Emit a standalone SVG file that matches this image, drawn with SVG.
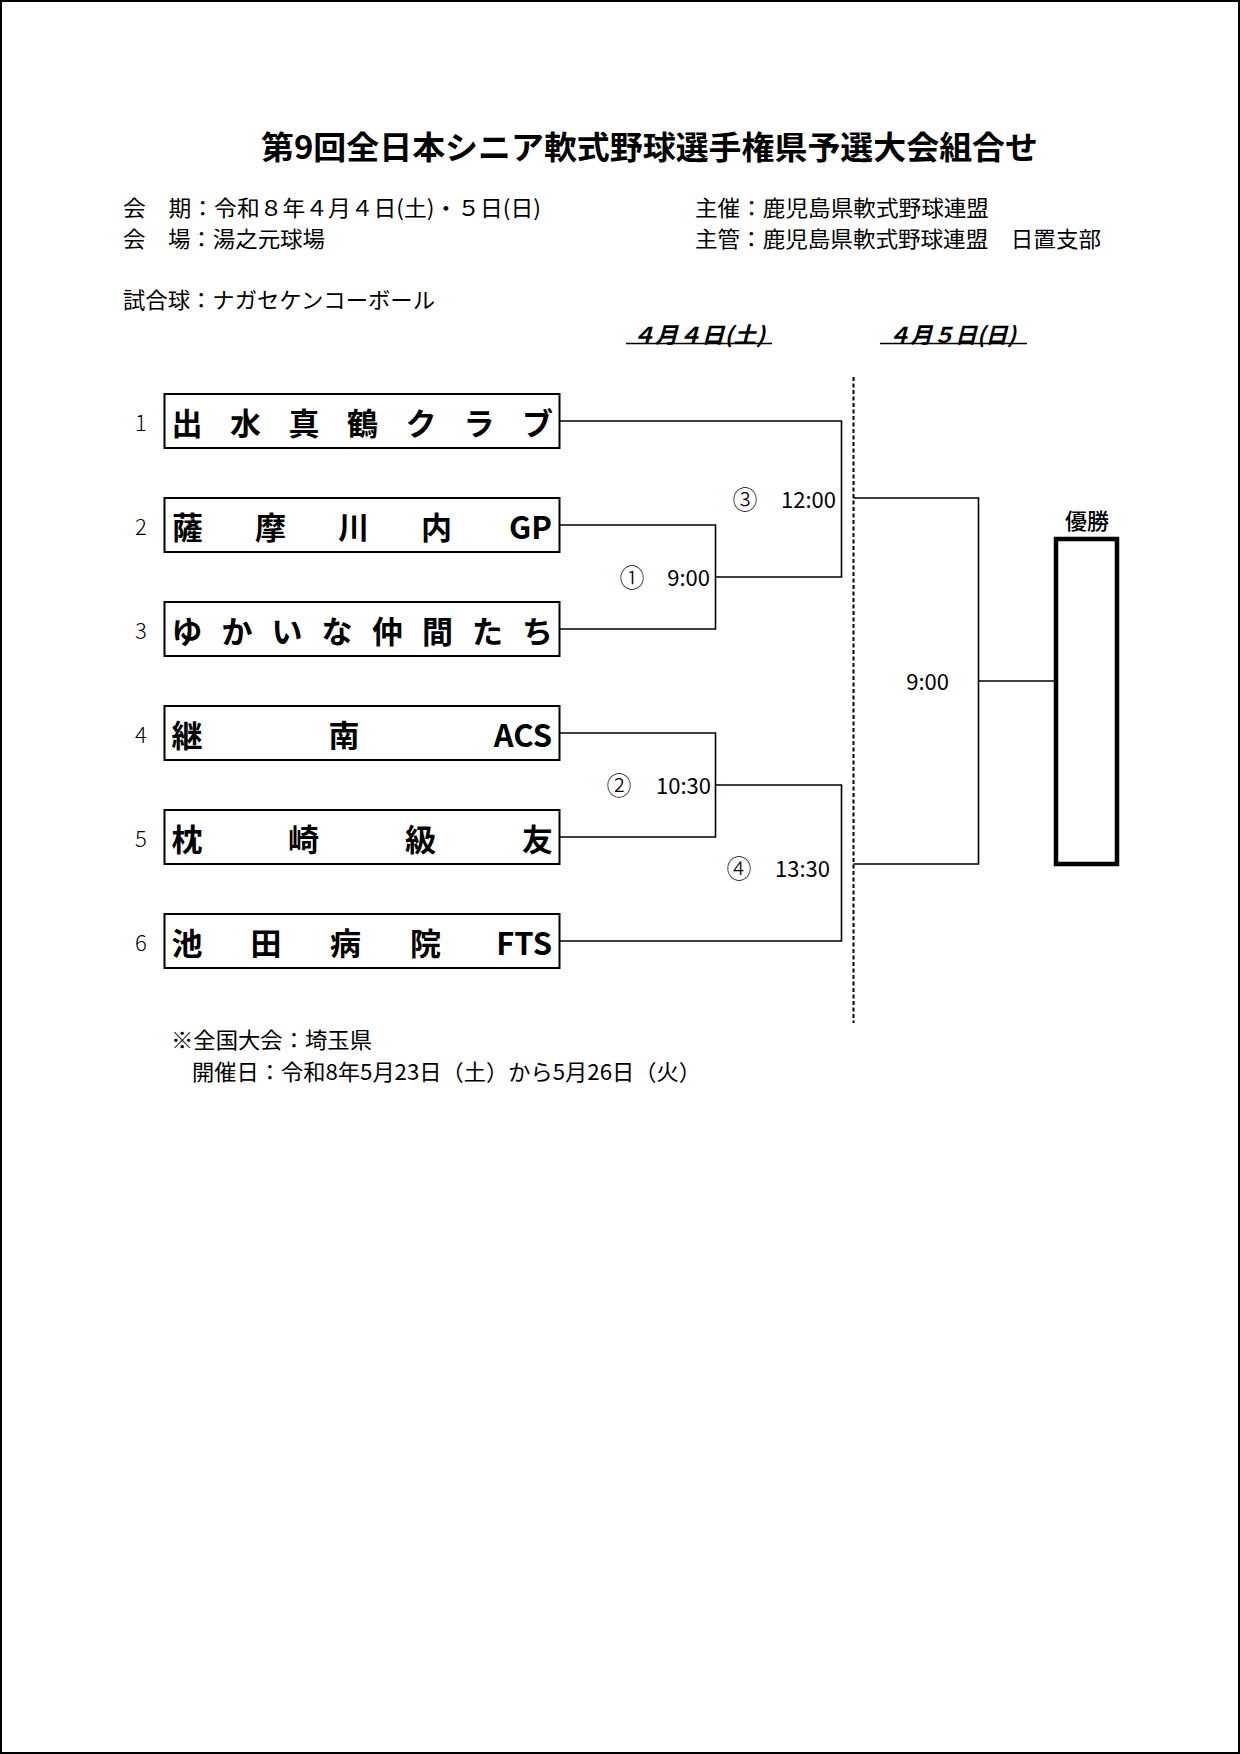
<svg xmlns="http://www.w3.org/2000/svg" width="1240" height="1754" viewBox="0 0 1240 1754">
<style>
text { font-family: "Noto Sans CJK JP", "Liberation Sans", sans-serif; fill: #000; dominant-baseline: central; }
.title { font-size: 32px; font-weight: 700; }
.info { font-size: 22px; }
.date { font-size: 22px; font-weight: 700; font-style: italic; }
.num { font-size: 22px; font-weight: 300; }
.team { font-size: 31px; font-weight: 700; text-anchor: middle; }
.teamend { font-size: 31px; font-weight: 700; text-anchor: end; }
.circ { font-size: 25px; text-anchor: middle; font-weight: 300; }
.time { font-size: 22px; text-anchor: end; }
.win { font-size: 22px; font-weight: 500; text-anchor: middle; }
.box { fill: #fff; stroke: #000; stroke-width: 2; }
.ln { fill: none; stroke: #000; stroke-width: 1.6; }
.dash { fill: none; stroke: #000; stroke-width: 2; stroke-dasharray: 4 2.5; }
</style>
<rect x="0" y="0" width="1240" height="1754" fill="#fff"/>
<rect x="1" y="1" width="1238" height="1752" fill="none" stroke="#000" stroke-width="2"/>

<g id="header">
<text class="title" x="261" y="145" textLength="777" lengthAdjust="spacingAndGlyphs">第9回全日本シニア軟式野球選手権県予選大会組合せ</text>
<text class="info" x="123" y="206" textLength="418" lengthAdjust="spacingAndGlyphs">会　期：令和８年４月４日(土)・５日(日)</text>
<text class="info" x="123" y="237" textLength="202" lengthAdjust="spacingAndGlyphs">会　場：湯之元球場</text>
<text class="info" x="695" y="206" textLength="294" lengthAdjust="spacingAndGlyphs">主催：鹿児島県軟式野球連盟</text>
<text class="info" x="695" y="237" textLength="406" lengthAdjust="spacingAndGlyphs">主管：鹿児島県軟式野球連盟　日置支部</text>
<text class="info" x="123" y="298" textLength="312" lengthAdjust="spacingAndGlyphs">試合球：ナガセケンコーボール</text>
</g>

<g id="dates">
<text class="date" x="632" y="333" textLength="133" lengthAdjust="spacingAndGlyphs">４月４日(土)</text>
<line class="ln" x1="626" y1="343.5" x2="772" y2="343.5"/>
<text class="date" x="888" y="333" textLength="128" lengthAdjust="spacingAndGlyphs">４月５日(日)</text>
<line class="ln" x1="880" y1="343.5" x2="1027" y2="343.5"/>
</g>

<g id="connectors">
<line class="dash" x1="853.5" y1="377" x2="853.5" y2="1023"/>
<polyline class="ln" points="559.5,421 841.5,421 841.5,577 715.5,577"/>
<polyline class="ln" points="559.5,525 715.5,525 715.5,629 559.5,629"/>
<polyline class="ln" points="559.5,733 715.5,733 715.5,837 559.5,837"/>
<polyline class="ln" points="715.5,785 841.5,785 841.5,941 559.5,941"/>
<polyline class="ln" points="853.5,498 978.5,498 978.5,864 853.5,864"/>
<line class="ln" x1="978.5" y1="681" x2="1054" y2="681"/>
</g>

<g id="team1">
<text class="num" x="141" y="421" text-anchor="middle">1</text>
<rect class="box" x="164.5" y="394" width="395" height="54"/>
<text class="team" y="421"><tspan x="187">出</tspan><tspan x="245.5">水</tspan><tspan x="304">真</tspan><tspan x="362.5">鶴</tspan><tspan x="421">ク</tspan><tspan x="479">ラ</tspan><tspan x="537.5">ブ</tspan></text>
</g>
<g id="team2">
<text class="num" x="141" y="525" text-anchor="middle">2</text>
<rect class="box" x="164.5" y="498" width="395" height="54"/>
<text class="team" y="525"><tspan x="187.5">薩</tspan><tspan x="270.5">摩</tspan><tspan x="353.5">川</tspan><tspan x="436.5">内</tspan></text>
<text class="teamend" x="552" y="525">GP</text>
</g>
<g id="team3">
<text class="num" x="141" y="629" text-anchor="middle">3</text>
<rect class="box" x="164.5" y="602" width="395" height="54"/>
<text class="team" y="629"><tspan x="187">ゆ</tspan><tspan x="237">か</tspan><tspan x="287">い</tspan><tspan x="337">な</tspan><tspan x="387.5">仲</tspan><tspan x="437.5">間</tspan><tspan x="487.5">た</tspan><tspan x="537.5">ち</tspan></text>
</g>
<g id="team4">
<text class="num" x="141" y="733" text-anchor="middle">4</text>
<rect class="box" x="164.5" y="706" width="395" height="54"/>
<text class="team" y="733"><tspan x="187">継</tspan><tspan x="344">南</tspan></text>
<text class="teamend" x="552" y="733">ACS</text>
</g>
<g id="team5">
<text class="num" x="141" y="837" text-anchor="middle">5</text>
<rect class="box" x="164.5" y="810" width="395" height="54"/>
<text class="team" y="837"><tspan x="187">枕</tspan><tspan x="303.5">崎</tspan><tspan x="420.5">級</tspan><tspan x="537.5">友</tspan></text>
</g>
<g id="team6">
<text class="num" x="141" y="941" text-anchor="middle">6</text>
<rect class="box" x="164.5" y="914" width="395" height="54"/>
<text class="team" y="941"><tspan x="187">池</tspan><tspan x="266">田</tspan><tspan x="345.5">病</tspan><tspan x="425.5">院</tspan></text>
<text class="teamend" x="552" y="941">FTS</text>
</g>

<g id="match1">
<text class="circ" x="632" y="576">①</text>
<text class="time" x="710" y="576">9:00</text>
</g>
<g id="match2">
<text class="circ" x="619" y="784">②</text>
<text class="time" x="711" y="784">10:30</text>
</g>
<g id="match3">
<text class="circ" x="745" y="498">③</text>
<text class="time" x="836" y="498">12:00</text>
</g>
<g id="match4">
<text class="circ" x="739" y="867">④</text>
<text class="time" x="830" y="867">13:30</text>
</g>
<g id="final">
<text class="time" x="949" y="680">9:00</text>
</g>

<g id="winner">
<text class="win" x="1087" y="519">優勝</text>
<rect x="1056" y="539" width="61" height="325" fill="#fff" stroke="#000" stroke-width="4.5"/>
</g>

<g id="footer">
<text class="info" x="171" y="1038" textLength="201" lengthAdjust="spacingAndGlyphs">※全国大会：埼玉県</text>
<text class="info" x="192" y="1070" textLength="509" lengthAdjust="spacingAndGlyphs">開催日：令和8年5月23日（土）から5月26日（火）</text>
</g>
</svg>
